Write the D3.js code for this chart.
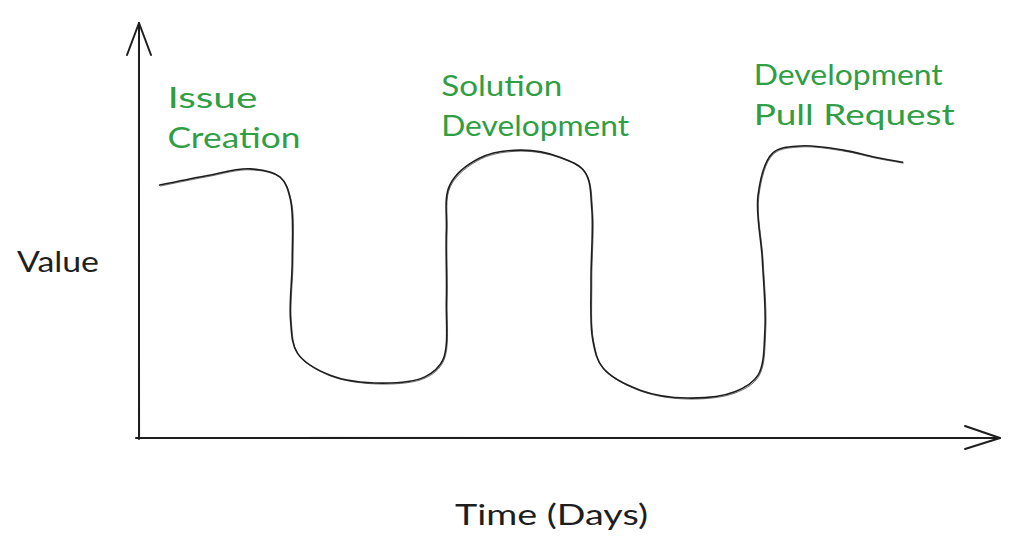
<!DOCTYPE html>
<html>
<head>
<meta charset="utf-8">
<script src="https://cdn.jsdelivr.net/npm/d3@7"></script>
<style>
  html, body { margin: 0; padding: 0; background: #ffffff; }
  svg { display: block; }
  text { font-family: Lato, "Noto Sans", sans-serif; }
</style>
</head>
<body>
<div id="chart"></div>
<script>
// ---- data (time in arbitrary day units 0..100, value 0..100) ----
const days   = [2.4, 7.7, 12.9, 16.4, 17.6, 17.8, 17.6, 18.4, 22.2, 28.3, 33.2, 35.3, 35.7, 35.7, 36.1, 39.6, 44.3, 48.9, 51.8, 52.6, 52.5, 52.7, 53.9, 58.2, 63.7, 69.2, 71.9, 72.7, 72.4, 71.9, 73.6, 76.8, 81.8, 85.5, 88.7];
const values = [60.8, 63.0, 64.7, 62.7, 57.2, 42.8, 28.4, 20.4, 15.1, 13.2, 14.7, 18.8, 33.2, 50.0, 60.8, 67.3, 69.2, 67.5, 63.9, 54.8, 38.0, 23.6, 16.8, 11.5, 9.6, 11.1, 15.1, 26.0, 42.8, 58.4, 68.5, 70.2, 69.2, 67.5, 66.3];

// phase annotations
const phaseLines = [["Issue", "Creation"], ["Solution", "Development"], ["Development", "Pull Request"]];
const phaseDays  = [3.3, 35.1, 71.4];
const phaseValues = [79.3, 82.2, 84.9];

const xTitle = "Time (Days)";
const yTitle = "Value";

// ---- layout ----
const W = 1033, H = 542;
const svg = d3.select("#chart").append("svg").attr("width", W).attr("height", H);

const x = d3.scaleLinear().domain([0, 100]).range([139, 1000]);
const y = d3.scaleLinear().domain([0, 100]).range([438, 22]);

const ink = "#1e1e1e";
const green = "#2f9e44";

// axes (hand-drawn style arrows)
const axisG = svg.append("g").attr("stroke", ink).attr("fill", "none")
  .attr("stroke-linecap", "round").attr("stroke-linejoin", "round");

// y axis
axisG.append("line").attr("x1", x(0)).attr("y1", y(0) + 1).attr("x2", x(0)).attr("y2", y(100) + 1).attr("stroke-width", 2);
axisG.append("line").attr("x1", x(0) + 0.6).attr("y1", y(0)).attr("x2", x(0) + 0.3).attr("y2", y(60)).attr("stroke-width", 1).attr("opacity", 0.6);
axisG.append("path").attr("stroke-width", 2)
  .attr("d", `M${x(0) - 12},${y(100) + 33} L${x(0)},${y(100) + 1} L${x(0) + 12},${y(100) + 33}`);

// x axis
axisG.append("line").attr("x1", x(0) - 3).attr("y1", y(0)).attr("x2", x(100)).attr("y2", y(0)).attr("stroke-width", 2);
axisG.append("line").attr("x1", x(20)).attr("y1", y(0) - 0.6).attr("x2", x(95)).attr("y2", y(0) - 0.4).attr("stroke-width", 1).attr("opacity", 0.6);
axisG.append("path").attr("stroke-width", 2)
  .attr("d", `M${x(100) - 35},${y(0) - 12} L${x(100)},${y(0)} L${x(100) - 35},${y(0) + 11}`);

// series line
const pts = days.map((d, i) => [d, values[i]]);
const line = d3.line()
  .x(d => x(d[0]))
  .y(d => y(d[1]))
  .curve(d3.curveCatmullRom.alpha(0.5));

svg.append("path").datum(pts)
  .attr("d", line).attr("fill", "none").attr("stroke", ink)
  .attr("stroke-width", 1.6).attr("stroke-linecap", "round");
svg.append("path").datum(pts)
  .attr("d", line).attr("fill", "none").attr("stroke", ink)
  .attr("stroke-width", 0.9).attr("opacity", 0.7)
  .attr("transform", "translate(0.8,1)");

// phase labels
const labelWidths = [[90, 133], [121, 188], [189, 201]];
phaseLines.forEach((lines, i) => {
  lines.forEach((t, j) => {
    svg.append("text")
      .attr("x", x(phaseDays[i]))
      .attr("y", y(phaseValues[i]) + j * 40)
      .attr("fill", green)
      .attr("font-size", 28)
      .attr("textLength", labelWidths[i][j])
      .attr("lengthAdjust", "spacingAndGlyphs")
      .text(t);
  });
});

// axis titles
svg.append("text").attr("x", 17).attr("y", 272)
  .attr("fill", ink).attr("font-size", 28)
  .attr("textLength", 82).attr("lengthAdjust", "spacingAndGlyphs")
  .text(yTitle);
svg.append("text").attr("x", 455).attr("y", 525)
  .attr("fill", ink).attr("font-size", 28)
  .attr("textLength", 193).attr("lengthAdjust", "spacingAndGlyphs")
  .text(xTitle);
</script>
</body>
</html>
